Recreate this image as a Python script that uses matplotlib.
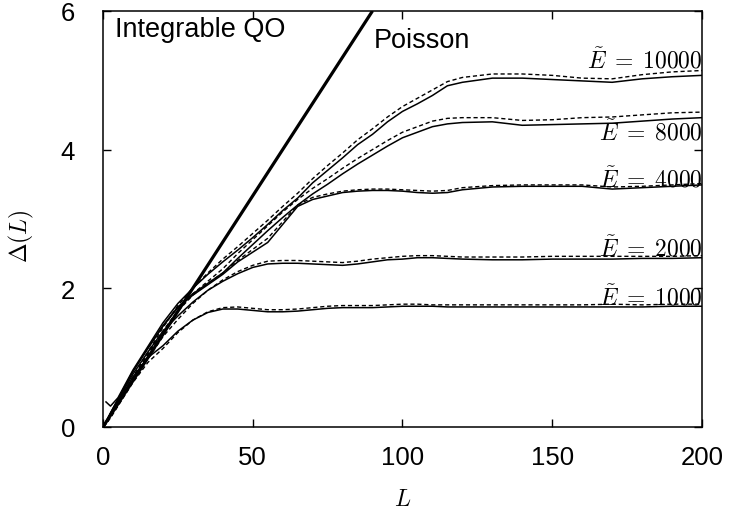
import numpy as np
import matplotlib
matplotlib.use("Agg")
import matplotlib.pyplot as plt

plt.rcParams['font.family'] = ['Liberation Sans', 'DejaVu Sans']
plt.rcParams['mathtext.fontset'] = 'cm'

# valeurs
L = [0, 1, 2.5, 5, 10, 15, 20, 25, 30, 35, 40, 45, 50, 55, 60, 65, 70, 75, 80,
     85, 90, 95, 100, 105, 110, 115, 120, 130, 140, 150, 160, 170, 180, 190, 200]

e1000 = [0, 0.07, 0.18, 0.36, 0.72, 1.0, 1.17, 1.38, 1.54, 1.65, 1.70, 1.70, 1.68, 1.66,
         1.66, 1.67, 1.69, 1.71, 1.72, 1.72, 1.72, 1.73, 1.74, 1.74, 1.74, 1.73, 1.73,
         1.73, 1.73, 1.73, 1.73, 1.73, 1.73, 1.74, 1.74]
e1000_d = [0, 0.04, 0.13, 0.30, 0.64, 0.93, 1.13, 1.36, 1.54, 1.66, 1.72, 1.73, 1.71, 1.69,
           1.69, 1.70, 1.72, 1.74, 1.75, 1.75, 1.75, 1.76, 1.77, 1.77, 1.76, 1.76, 1.76,
           1.76, 1.76, 1.76, 1.76, 1.77, 1.76, 1.77, 1.77]

e2000 = [0, 0.07, 0.19, 0.38, 0.76, 1.08, 1.38, 1.60, 1.80, 1.97, 2.10, 2.21, 2.30, 2.35,
         2.36, 2.36, 2.35, 2.34, 2.33, 2.35, 2.38, 2.41, 2.42, 2.44, 2.44, 2.43, 2.42,
         2.41, 2.41, 2.42, 2.42, 2.42, 2.43, 2.43, 2.44]
e2000_d = [0, 0.05, 0.14, 0.31, 0.67, 0.98, 1.30, 1.55, 1.78, 1.97, 2.12, 2.24, 2.33, 2.39,
           2.40, 2.40, 2.39, 2.38, 2.37, 2.39, 2.42, 2.44, 2.46, 2.47, 2.47, 2.46, 2.45,
           2.45, 2.45, 2.46, 2.46, 2.46, 2.46, 2.46, 2.47]

e4000 = [0, 0.07, 0.20, 0.40, 0.80, 1.13, 1.45, 1.72, 1.90, 2.05, 2.20, 2.38, 2.52, 2.66,
         2.92, 3.18, 3.28, 3.33, 3.38, 3.40, 3.41, 3.41, 3.40, 3.38, 3.37, 3.38, 3.42,
         3.46, 3.47, 3.47, 3.47, 3.43, 3.45, 3.47, 3.49]
e4000_d = [0, 0.05, 0.15, 0.33, 0.70, 1.03, 1.37, 1.67, 1.90, 2.07, 2.22, 2.40, 2.56, 2.72,
           2.96, 3.20, 3.31, 3.36, 3.40, 3.42, 3.43, 3.43, 3.42, 3.41, 3.40, 3.41, 3.45,
           3.48, 3.49, 3.49, 3.49, 3.46, 3.47, 3.49, 3.51]

e8000 = [0, 0.07, 0.20, 0.40, 0.80, 1.14, 1.46, 1.73, 1.92, 2.07, 2.22, 2.43, 2.63, 2.83,
         3.02, 3.20, 3.36, 3.50, 3.65, 3.79, 3.92, 4.05, 4.17, 4.25, 4.33, 4.37, 4.39,
         4.40, 4.35, 4.36, 4.37, 4.38, 4.41, 4.44, 4.46]
e8000_d = [0, 0.05, 0.15, 0.33, 0.70, 1.05, 1.38, 1.68, 1.92, 2.10, 2.28, 2.50, 2.70, 2.90,
           3.10, 3.28, 3.44, 3.58, 3.73, 3.87, 4.00, 4.13, 4.25, 4.33, 4.41, 4.45, 4.46,
           4.46, 4.42, 4.43, 4.46, 4.47, 4.50, 4.53, 4.54]

e10000 = [np.nan, 0.36, 0.30, 0.42, 0.82, 1.16, 1.50, 1.78, 2.00, 2.20, 2.38, 2.55, 2.73,
          2.92, 3.12, 3.30, 3.52, 3.70, 3.88, 4.07, 4.22, 4.40, 4.55, 4.66, 4.78, 4.92,
          4.97, 5.03, 5.03, 5.01, 4.99, 4.97, 5.02, 5.05, 5.07]
e10000_d = [0, 0.05, 0.15, 0.33, 0.72, 1.08, 1.43, 1.75, 2.00, 2.22, 2.42, 2.60, 2.79,
            2.98, 3.18, 3.37, 3.58, 3.77, 3.95, 4.14, 4.30, 4.47, 4.62, 4.74, 4.86, 4.98,
            5.04, 5.09, 5.09, 5.07, 5.03, 5.02, 5.08, 5.12, 5.14]

poisson_L = [0, 90]
poisson_val = [0, 6]

labels = [r'$\tilde{E}\;=\;10000$', r'$\tilde{E}\;=\;8000$', r'$\tilde{E}\;=\;4000$',
          r'$\tilde{E}\;=\;2000$', r'$\tilde{E}\;=\;1000$']
label_y = [5.18, 4.15, 3.46, 2.47, 1.77]

fig = plt.figure(figsize=(7.32, 5.10), dpi=100)
ax = fig.add_axes([0.1407, 0.161, 0.8183, 0.8157])

solids = [e1000, e2000, e4000, e8000, e10000]
dashed = [e1000_d, e2000_d, e4000_d, e8000_d, e10000_d]
for s, d in zip(solids, dashed):
    ax.plot(L, d, color='black', lw=1.0, dashes=(3, 2))
    ax.plot(L, s, color='black', lw=1.1)

ax.plot(poisson_L, poisson_val, color='black', lw=2.3, solid_capstyle='butt')

for txt, yy in zip(labels, label_y):
    ax.text(200.3, yy, txt, ha='right', va='baseline', fontsize=17)

ax.text(4, 5.64, 'Integrable QO', fontsize=19.5, va='baseline')
ax.text(90.5, 5.48, 'Poisson', fontsize=19.5, va='baseline')

ax.set_xlim(0, 200)
ax.set_ylim(0, 6)
ax.set_xticks([0, 50, 100, 150, 200])
ax.set_yticks([0, 2, 4, 6])
ax.tick_params(direction='in', length=6, width=1, top=True, right=True,
               labelsize=18.5)
ax.tick_params(axis='x', pad=13)
ax.tick_params(axis='y', pad=20)
for sp in ax.spines.values():
    sp.set_linewidth(1.1)

ax.set_xlabel(r'$L$', fontsize=17, labelpad=14)
ax.set_ylabel(r'$\Delta(L)$', fontsize=17)
ax.yaxis.set_label_coords(-0.112, 0.46)

fig.savefig('out.png', dpi=100)
plt.close(fig)
